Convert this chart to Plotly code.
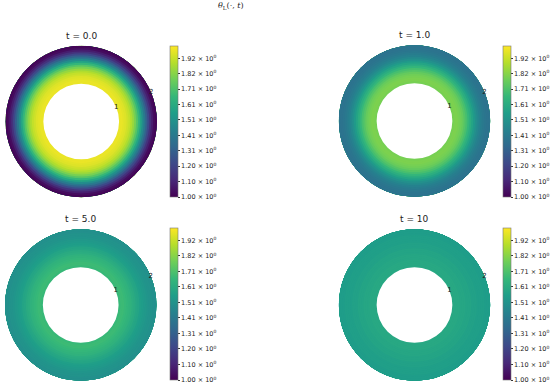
import plotly.graph_objects as go

# ---- data ----
times = ["0.0", "1.0", "5.0", "10"]
r_edges = [1.00, 1.05, 1.10, 1.15, 1.20, 1.25, 1.30, 1.35, 1.40, 1.45,
           1.50, 1.55, 1.60, 1.65, 1.70, 1.75, 1.80, 1.85, 1.90, 1.95, 2.00]
theta_t0 = [1.97, 1.97, 1.96, 1.95, 1.93, 1.91, 1.88, 1.84, 1.79, 1.73,
            1.66, 1.58, 1.49, 1.40, 1.31, 1.22, 1.14, 1.08, 1.03, 1.01]
theta_t1 = [1.79, 1.80, 1.80, 1.79, 1.78, 1.76, 1.73, 1.70, 1.66, 1.62,
            1.58, 1.54, 1.50, 1.47, 1.44, 1.42, 1.40, 1.39, 1.38, 1.38]
theta_t5 = [1.67, 1.68, 1.68, 1.67, 1.66, 1.65, 1.64, 1.62, 1.61, 1.59,
            1.58, 1.56, 1.55, 1.54, 1.53, 1.52, 1.51, 1.51, 1.50, 1.50]
theta_t10 = [1.60, 1.60, 1.60, 1.60, 1.59, 1.59, 1.59, 1.58, 1.58, 1.58,
             1.57, 1.57, 1.57, 1.56, 1.56, 1.56, 1.56, 1.55, 1.55, 1.55]
series = [theta_t0, theta_t1, theta_t5, theta_t10]
cbar_tickvals = [1.000, 1.102, 1.204, 1.306, 1.408, 1.510, 1.612, 1.714, 1.816, 1.918]
cbar_ticklabels = ["1.00", "1.10", "1.20", "1.31", "1.41", "1.51", "1.61", "1.71", "1.82", "1.92"]
r_ticks = [1, 2]
r_label_angle = 22.5

W, H = 550, 388
# polar domains in pixels: (x0, x1, ytop, ybottom)
doms = [(5.5, 157.5, 45.5, 197.5), (340, 492, 45, 197),
        (5, 157, 229, 381), (340, 492, 229, 381)]
# colorbars in pixels: (x_left, ytop, ybottom)
cbars = [(171, 46, 197), (505, 46, 197), (171, 228, 380), (505, 228, 380)]

fig = go.Figure()
r_outer = r_edges[-1]
# stacked rings: each bar spans from its inner edge to the outer radius,
# later (outer) bars drawn on top -> no seams between rings
for i, vals in enumerate(series):
    k = "" if i == 0 else str(i + 1)
    n = len(vals)
    fig.add_trace(go.Barpolar(
        r=[r_outer - b for b in r_edges[:-1]], base=r_edges[:-1],
        theta=[0] * n, width=[360] * n,
        marker=dict(color=vals, coloraxis="coloraxis" + k, line=dict(width=0)),
        subplot="polar" + k, showlegend=False, hoverinfo="skip"))
    # radial tick labels placed on the 22.5 deg radial line, like matplotlib
    fig.add_trace(go.Scatterpolar(
        r=r_ticks, theta=[r_label_angle] * len(r_ticks), mode="text",
        text=[str(t) for t in r_ticks], textposition="middle center",
        textfont=dict(size=7, color="#222", family="DejaVu Sans"),
        subplot="polar" + k, showlegend=False, hoverinfo="skip", cliponaxis=False))
    x0, x1, yt, yb = doms[i]
    fig.layout["polar" + k] = dict(
        domain=dict(x=[x0 / W, x1 / W], y=[1 - yb / H, 1 - yt / H]),
        bgcolor="white", hole=0, bargap=0,
        radialaxis=dict(range=[0, 2], showticklabels=False,
                        showline=False, showgrid=False, ticks=""),
        angularaxis=dict(showline=False, showgrid=False, showticklabels=False, ticks=""))
    cx, cyt, cyb = cbars[i]
    fig.layout["coloraxis" + k] = dict(
        colorscale="Viridis", cmin=1.0, cmax=2.0,
        colorbar=dict(x=cx / W, xanchor="left", xpad=0, y=1 - cyt / H, yanchor="top", ypad=0,
                      lenmode="pixels", len=cyb - cyt, thickness=8, thicknessmode="pixels",
                      outlinewidth=0.6, outlinecolor="#777",
                      tickvals=cbar_tickvals,
                      ticktext=[t + " × 10<sup>0</sup>" for t in cbar_ticklabels],
                      ticks="outside", ticklen=2, tickwidth=0.6, tickcolor="#333",
                      tickfont=dict(size=6.5, color="#222", family="DejaVu Sans")))
    fig.add_annotation(text="t = " + times[i], x=(x0 + x1) / 2 / W, y=1 - (yt - 3) / H,
                       xref="paper", yref="paper", xanchor="center", yanchor="bottom",
                       showarrow=False, font=dict(size=9, color="#222", family="DejaVu Sans"))

fig.add_annotation(text="<i>θ</i><sub>L</sub>(·, <i>t</i>)", x=232 / W, y=1 - 6 / H,
                   xref="paper", yref="paper", xanchor="center", yanchor="middle",
                   showarrow=False, font=dict(size=8, color="#222", family="DejaVu Serif"))

fig.update_layout(width=W, height=H, margin=dict(l=0, r=0, t=0, b=0),
                  paper_bgcolor="white", plot_bgcolor="white")
fig.write_html("out.html", post_script="document.body.style.margin='0';",
               config={"displayModeBar": False})
